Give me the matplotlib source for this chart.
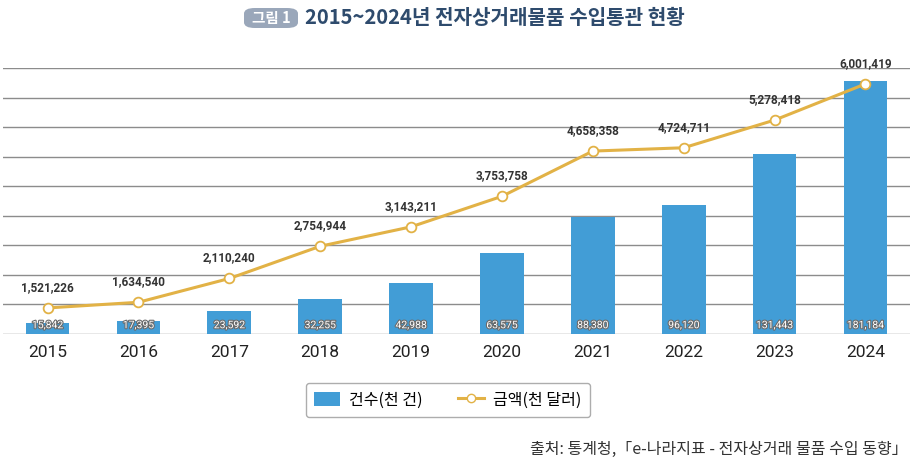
import matplotlib.pyplot as plt
import matplotlib.patheffects as pe
from matplotlib.patches import FancyBboxPatch
from matplotlib.lines import Line2D
from matplotlib.patches import Patch
import numpy as np

plt.rcParams['font.family'] = ['Noto Sans CJK KR', 'DejaVu Sans']

years = ['2015', '2016', '2017', '2018', '2019', '2020', '2021', '2022', '2023', '2024']
counts = [15842, 17395, 23592, 32255, 42988, 63575, 88380, 96120, 131443, 181184]
amounts = [1521226, 1634540, 2110240, 2754944, 3143211, 3753758, 4658358, 4724711, 5278418, 6001419]

bar_color = '#429DD6'
line_color = '#E2B246'
grid_color = '#8C8C8C'

fig = plt.figure(figsize=(9.13, 4.66), dpi=100)
ax = fig.add_axes([3 / 913, 1 - 334 / 466, 907 / 913, 266 / 466])
ax2 = ax.twinx()

x = np.arange(len(years))

# bar axis: zero sits a bit below the bottom line
ax.set_ylim(8200, 189900)
ax.set_yticks(np.linspace(8200, 189900, 10))
ax.grid(axis='y', color=grid_color, linewidth=1.0)
ax.set_axisbelow(True)
ax.bar(x, counts, width=0.48, color=bar_color, zorder=2)
ax.set_xlim(-0.49, 9.49)

for xi, c in zip(x, counts):
    ax.text(xi, 8200 + 6000, f'{c:,}', ha='center', va='center', fontsize=7.5,
            family=['Roboto', 'DejaVu Sans'], color='white', zorder=4,
            path_effects=[pe.withStroke(linewidth=1.6, foreground='#6b6b6b')])

ax2.set_ylim(1.0e6, 6.32e6)
ax2.plot(x, amounts, color=line_color, linewidth=2.2, marker='o', markersize=7,
         markerfacecolor='white', markeredgecolor=line_color, markeredgewidth=1.3, zorder=5)
for xi, a in zip(x, amounts):
    ax2.annotate(f'{a:,}', (xi, a), xytext=(0, 10), textcoords='offset points',
                 ha='center', va='bottom', fontsize=8.5, fontweight='bold',
                 family=['Roboto', 'DejaVu Sans'], color='#333333')

for a in (ax, ax2):
    for s in a.spines.values():
        s.set_visible(False)
    a.tick_params(left=False, right=False, labelleft=False, labelright=False)
ax2.set_yticks([])

ax.set_xticks(x)
ax.set_xticklabels(years, fontsize=12.5, color='#222222', family=['Roboto', 'DejaVu Sans'])
ax.tick_params(axis='x', length=0, pad=8)

# title with badge
fig.patches.append(FancyBboxPatch((244 / 913, 1 - 28 / 466), 54 / 913, 20 / 466,
                                  boxstyle='round,pad=0,rounding_size=0.012',
                                  transform=fig.transFigure, facecolor='#9AA7BA',
                                  edgecolor='none'))
fig.text(271 / 913, 1 - 18 / 466, '그림 1', ha='center', va='center', fontsize=10.5,
         fontweight='bold', color='white')
fig.text(305 / 913, 1 - 17 / 466, '2015~2024년 전자상거래물품 수입통관 현황', ha='left',
         va='center', fontsize=14.5, fontweight='bold', color='#2E4B6D')

handles = [Patch(facecolor=bar_color, edgecolor='none'),
           Line2D([0], [0], color=line_color, linewidth=2.2, marker='o', markersize=6,
                  markerfacecolor='white', markeredgecolor=line_color)]
leg = fig.legend(handles, ['건수(천 건)', '금액(천 달러)'], loc='center',
                 bbox_to_anchor=(448 / 913, 1 - 400 / 466), ncol=2, fontsize=11.5,
                 frameon=True, fancybox=True, edgecolor='#999999', handlelength=1.6,
                 handleheight=1.0, columnspacing=2.2, borderpad=0.55, handletextpad=0.6)
leg.get_frame().set_linewidth(1.0)

fig.text(908 / 913, 1 - 449 / 466, '출처: 통계청,「e-나라지표 - 전자상거래 물품 수입 동향」',
         ha='right', va='center', fontsize=11.5, color='#333333')

fig.savefig('out.png', dpi=100)
